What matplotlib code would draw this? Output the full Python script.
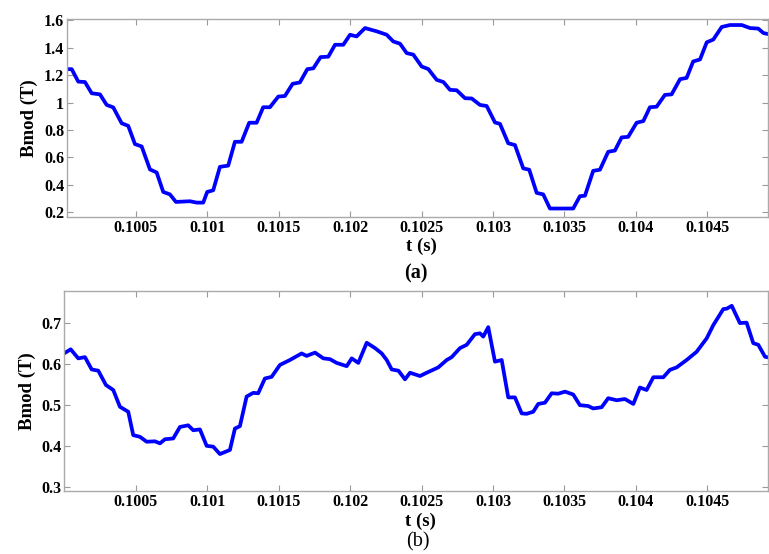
import matplotlib
matplotlib.use("Agg")
import matplotlib.pyplot as plt

# panel (a)
t_a = [0.100015, 0.100050, 0.100096, 0.100143, 0.100190, 0.100248, 0.100295, 0.100341,
       0.100400, 0.100446, 0.100493, 0.100540, 0.100598, 0.100645, 0.100691, 0.100738,
       0.100780, 0.100878, 0.100925, 0.100971, 0.100999, 0.101041, 0.101088, 0.101146,
       0.101193, 0.101240, 0.101293, 0.101345, 0.101391, 0.101438, 0.101497, 0.101543,
       0.101597, 0.101648, 0.101700, 0.101742, 0.101793, 0.101847, 0.101894, 0.101952,
       0.101999, 0.102045, 0.102104, 0.102186, 0.102256, 0.102302, 0.102349, 0.102396,
       0.102442, 0.102501, 0.102547, 0.102606, 0.102653, 0.102699, 0.102746, 0.102804,
       0.102851, 0.102909, 0.102956, 0.103014, 0.103049, 0.103107, 0.103154, 0.103212,
       0.103254, 0.103306, 0.103352, 0.103399, 0.103562, 0.103609, 0.103644, 0.103702,
       0.103749, 0.103807, 0.103854, 0.103901, 0.103947, 0.104006, 0.104053, 0.104099,
       0.104146, 0.104204, 0.104251, 0.104310, 0.104356, 0.104402, 0.104450, 0.104497,
       0.104543, 0.104602, 0.104660, 0.104742, 0.104800, 0.104858, 0.104893, 0.104926]
b_a = [1.244, 1.244, 1.153, 1.150, 1.068, 1.060, 0.983, 0.965,
       0.849, 0.830, 0.697, 0.680, 0.512, 0.490, 0.348, 0.330,
       0.275, 0.280, 0.270, 0.270, 0.348, 0.360, 0.531, 0.540,
       0.714, 0.714, 0.853, 0.853, 0.966, 0.966, 1.044, 1.048,
       1.137, 1.147, 1.244, 1.250, 1.332, 1.335, 1.422, 1.422,
       1.495, 1.483, 1.544, 1.520, 1.495, 1.446, 1.430, 1.361,
       1.350, 1.263, 1.245, 1.166, 1.150, 1.093, 1.090, 1.032,
       1.030, 0.983, 0.975, 0.855, 0.845, 0.703, 0.690, 0.520,
       0.510, 0.341, 0.330, 0.227, 0.227, 0.317, 0.320, 0.502,
       0.510, 0.641, 0.650, 0.746, 0.750, 0.853, 0.865, 0.966,
       0.970, 1.056, 1.060, 1.171, 1.180, 1.300, 1.315, 1.440,
       1.460, 1.552, 1.566, 1.566, 1.544, 1.540, 1.508, 1.500]

# panel (b)
t_b = [0.099996, 0.100043, 0.100096, 0.100143, 0.100190, 0.100236, 0.100290, 0.100341,
       0.100388, 0.100446, 0.100481, 0.100528, 0.100575, 0.100633, 0.100668, 0.100703,
       0.100761, 0.100808, 0.100866, 0.100901, 0.100948, 0.100995, 0.101041, 0.101088,
       0.101158, 0.101193, 0.101228, 0.101275, 0.101321, 0.101356, 0.101403, 0.101450,
       0.101508, 0.101578, 0.101660, 0.101695, 0.101754, 0.101812, 0.101859, 0.101905,
       0.101976, 0.102011, 0.102057, 0.102116, 0.102174, 0.102221, 0.102256, 0.102291,
       0.102338, 0.102384, 0.102419, 0.102489, 0.102536, 0.102617, 0.102676, 0.102711,
       0.102769, 0.102816, 0.102874, 0.102909, 0.102932, 0.102967, 0.103014, 0.103061,
       0.103107, 0.103154, 0.103201, 0.103236, 0.103282, 0.103317, 0.103364, 0.103411,
       0.103457, 0.103504, 0.103562, 0.103609, 0.103667, 0.103702, 0.103761, 0.103807,
       0.103866, 0.103924, 0.103983, 0.104029, 0.104076, 0.104123, 0.104193, 0.104239,
       0.104286, 0.104356, 0.104426, 0.104497, 0.104543, 0.104613, 0.104637, 0.104672,
       0.104729, 0.104776, 0.104823, 0.104858, 0.104905, 0.104933]
b_b = [0.625, 0.635, 0.613, 0.616, 0.586, 0.583, 0.548, 0.536,
       0.495, 0.483, 0.426, 0.422, 0.410, 0.411, 0.406, 0.416,
       0.418, 0.446, 0.450, 0.438, 0.440, 0.400, 0.398, 0.380,
       0.390, 0.442, 0.448, 0.520, 0.529, 0.528, 0.564, 0.568,
       0.597, 0.609, 0.625, 0.619, 0.627, 0.613, 0.611, 0.602,
       0.594, 0.613, 0.602, 0.651, 0.638, 0.625, 0.609, 0.586,
       0.583, 0.562, 0.578, 0.570, 0.578, 0.591, 0.609, 0.616,
       0.638, 0.646, 0.672, 0.674, 0.666, 0.689, 0.605, 0.609,
       0.518, 0.518, 0.479, 0.478, 0.483, 0.502, 0.505, 0.528,
       0.527, 0.532, 0.525, 0.499, 0.497, 0.491, 0.494, 0.516,
       0.511, 0.514, 0.502, 0.542, 0.536, 0.567, 0.567, 0.585,
       0.591, 0.609, 0.629, 0.662, 0.694, 0.733, 0.734, 0.741,
       0.699, 0.700, 0.650, 0.646, 0.617, 0.615]

xticks = [0.1005, 0.101, 0.1015, 0.102, 0.1025, 0.103, 0.1035, 0.104, 0.1045]
xticklabels = ["0.1005", "0.101", "0.1015", "0.102", "0.1025", "0.103", "0.1035", "0.104", "0.1045"]
yticks_a = [0.2, 0.4, 0.6, 0.8, 1.0, 1.2, 1.4, 1.6]
yticklabels_a = ["0.2", "0.4", "0.6", "0.8", "1", "1.2", "1.4", "1.6"]
yticks_b = [0.3, 0.4, 0.5, 0.6, 0.7]
yticklabels_b = ["0.3", "0.4", "0.5", "0.6", "0.7"]

plt.rcParams['font.family'] = ['Liberation Serif', 'DejaVu Serif']
plt.rcParams['font.weight'] = 'bold'

fig = plt.figure(figsize=(7.69, 5.54), dpi=100)
ax1 = fig.add_axes([0.0871, 0.6083, 0.9116, 0.3574])
ax2 = fig.add_axes([0.0832, 0.1137, 0.9155, 0.3610])

def style(ax, yt, ytl, ylim, xlim):
    ax.set_xlim(*xlim)
    ax.set_ylim(*ylim)
    ax.set_xticks(xticks)
    ax.set_xticklabels(xticklabels, fontsize=11.5, fontweight='bold')
    ax.set_yticks(yt)
    ax.set_yticklabels(ytl, fontsize=11.5, fontweight='bold')
    ax.tick_params(direction='in', length=4, width=0.8, color='#999999',
                   top=True, right=True, pad=2)
    for s in ax.spines.values():
        s.set_color('#aaaaaa')
        s.set_linewidth(1.0)
    ax.set_ylabel('Bmod (T)', fontsize=13.5, fontweight='bold', labelpad=4)

ax1.plot(t_a, b_a, color='#0000ff', lw=2.7, solid_joinstyle='round', solid_capstyle='round')
style(ax1, yticks_a, yticklabels_a, (0.165, 1.61), (0.100017, 0.104926))
ax2.plot(t_b, b_b, color='#0000ff', lw=2.7, solid_joinstyle='round', solid_capstyle='round')
style(ax2, yticks_b, yticklabels_b, (0.29, 0.777), (0.099996, 0.104926))

fig.text(421 / 769, 1 - 246 / 554, 't (s)', ha='center', va='center', fontsize=13.5, fontweight='bold')
fig.text(416 / 769, 1 - 273 / 554, '(a)', ha='center', va='center', fontsize=14.5, fontweight='bold')
fig.text(420 / 769, 1 - 521 / 554, 't (s)', ha='center', va='center', fontsize=13.5, fontweight='bold')
fig.text(418 / 769, 1 - 542 / 554, '(b)', ha='center', va='center', fontsize=14.5, fontweight='normal')

fig.savefig('out.png', dpi=100)
